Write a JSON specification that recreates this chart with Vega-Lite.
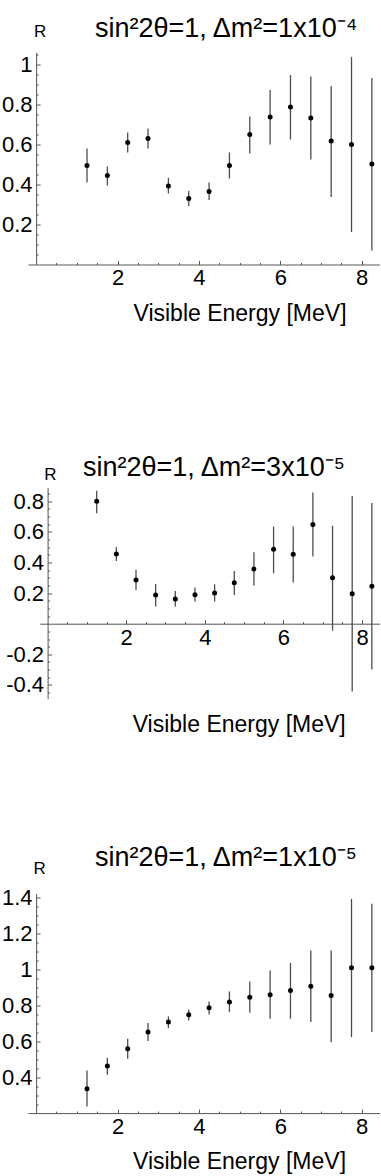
{
  "$schema": "https://vega.github.io/schema/vega-lite/v6.json",
  "background": "white",
  "padding": {"left": 1, "top": 14.5, "right": 0, "bottom": 0},
  "config": {"view": {"stroke": null}, "font": "Liberation Sans"},
  "datasets": {
    "p1": [
      {"E": 1.25, "R": 0.495, "lo": 0.41, "hi": 0.58},
      {"E": 1.75, "R": 0.445, "lo": 0.395, "hi": 0.49},
      {"E": 2.25, "R": 0.61, "lo": 0.56, "hi": 0.66},
      {"E": 2.75, "R": 0.63, "lo": 0.58, "hi": 0.68},
      {"E": 3.25, "R": 0.392, "lo": 0.355, "hi": 0.433},
      {"E": 3.75, "R": 0.33, "lo": 0.292, "hi": 0.367},
      {"E": 4.25, "R": 0.365, "lo": 0.322, "hi": 0.41},
      {"E": 4.75, "R": 0.495, "lo": 0.43, "hi": 0.56},
      {"E": 5.25, "R": 0.65, "lo": 0.555, "hi": 0.74},
      {"E": 5.75, "R": 0.737, "lo": 0.6, "hi": 0.873},
      {"E": 6.25, "R": 0.788, "lo": 0.625, "hi": 0.947},
      {"E": 6.75, "R": 0.733, "lo": 0.525, "hi": 0.94},
      {"E": 7.25, "R": 0.617, "lo": 0.338, "hi": 0.893},
      {"E": 7.75, "R": 0.6, "lo": 0.162, "hi": 1.038},
      {"E": 8.25, "R": 0.503, "lo": 0.07, "hi": 0.933}
    ],
    "p2": [
      {"E": 1.25, "R": 0.8, "lo": 0.722, "hi": 0.868},
      {"E": 1.75, "R": 0.456, "lo": 0.41, "hi": 0.5},
      {"E": 2.25, "R": 0.286, "lo": 0.221, "hi": 0.352},
      {"E": 2.75, "R": 0.188, "lo": 0.112, "hi": 0.26},
      {"E": 3.25, "R": 0.162, "lo": 0.112, "hi": 0.214},
      {"E": 3.75, "R": 0.19, "lo": 0.145, "hi": 0.236},
      {"E": 4.25, "R": 0.2, "lo": 0.145, "hi": 0.258},
      {"E": 4.75, "R": 0.267, "lo": 0.188, "hi": 0.345},
      {"E": 5.25, "R": 0.358, "lo": 0.25, "hi": 0.467},
      {"E": 5.75, "R": 0.487, "lo": 0.33, "hi": 0.635},
      {"E": 6.25, "R": 0.454, "lo": 0.269, "hi": 0.635},
      {"E": 6.75, "R": 0.648, "lo": 0.439, "hi": 0.857},
      {"E": 7.25, "R": 0.3, "lo": -0.045, "hi": 0.64},
      {"E": 7.75, "R": 0.195, "lo": -0.443, "hi": 0.835},
      {"E": 8.25, "R": 0.245, "lo": -0.3, "hi": 0.788}
    ],
    "p3": [
      {"E": 1.25, "R": 0.335, "lo": 0.237, "hi": 0.437},
      {"E": 1.75, "R": 0.461, "lo": 0.413, "hi": 0.507},
      {"E": 2.25, "R": 0.557, "lo": 0.502, "hi": 0.613},
      {"E": 2.75, "R": 0.65, "lo": 0.6, "hi": 0.7},
      {"E": 3.25, "R": 0.706, "lo": 0.672, "hi": 0.737},
      {"E": 3.75, "R": 0.746, "lo": 0.715, "hi": 0.776},
      {"E": 4.25, "R": 0.785, "lo": 0.748, "hi": 0.82},
      {"E": 4.75, "R": 0.817, "lo": 0.761, "hi": 0.876},
      {"E": 5.25, "R": 0.844, "lo": 0.757, "hi": 0.931},
      {"E": 5.75, "R": 0.857, "lo": 0.724, "hi": 0.992},
      {"E": 6.25, "R": 0.881, "lo": 0.724, "hi": 1.035},
      {"E": 6.75, "R": 0.905, "lo": 0.706, "hi": 1.103},
      {"E": 7.25, "R": 0.853, "lo": 0.594, "hi": 1.103},
      {"E": 7.75, "R": 1.007, "lo": 0.622, "hi": 1.39},
      {"E": 8.25, "R": 1.007, "lo": 0.65, "hi": 1.363}
    ]
  },
  "vconcat": [
    {
      "width": 352,
      "height": 434.6,
      "data": {"name": "p1"},
      "title": {"text": "sin²2θ=1, Δm²=1x10⁻⁴", "frame": "group", "anchor": "start", "dx": 67, "dy": 20.3, "offset": 0, "fontSize": 27, "fontWeight": "normal", "font": "Liberation Sans", "color": "black"},
      "layer": [
        {
          "mark": {"type": "rule", "stroke": "#4d4d4d", "strokeWidth": 1.3},
          "encoding": {
            "x": {"field": "E", "type": "quantitative", "scale": {"domain": [-0.2, 8.45], "range": [0, 352], "nice": false, "zero": false},
              "axis": {"orient": "bottom", "offset": -222.6, "values": [2, 4, 6, 8], "labelExpr": "'' + datum.value", "tickSize": -4, "tickColor": "#555555", "domainColor": "#555555", "labelFontSize": 22, "labelColor": "black", "labelPadding": 7.4, "labelBaseline": "top", "labelFlush": false, "labelOverlap": false, "grid": false, "title": "Visible Energy [MeV]", "titleFontSize": 23, "titleFontWeight": "normal", "titleColor": "black", "titleX": 211.5, "titleY": 48.5, "titleBaseline": "middle", "titleAlign": "center"}},
            "y": {"field": "lo", "type": "quantitative", "scale": {"domain": [0, 1.06], "range": [212, 0], "nice": false, "zero": false},
              "axis": {"orient": "left", "offset": -8.1, "values": [0.2, 0.4, 0.6, 0.8, 1], "labelExpr": "'' + datum.value", "tickSize": -4, "tickColor": "#555555", "domainColor": "#555555", "labelFontSize": 22, "labelColor": "black", "labelPadding": 8, "labelOverlap": false, "labelFlush": false, "grid": false, "title": "R", "titleAngle": 0, "titleX": 3.5, "titleY": -21, "titleAlign": "center", "titleBaseline": "middle", "titleFontSize": 17, "titleFontWeight": "normal", "titleColor": "black"}},
            "y2": {"field": "hi"}
          }
        },
        {
          "mark": {"type": "point", "filled": true, "color": "black", "size": 25, "opacity": 1},
          "encoding": {
            "x": {"field": "E", "type": "quantitative", "axis": {"orient": "bottom", "offset": -222.6, "values": [0.5, 1, 1.5, 2.5, 3, 3.5, 4.5, 5, 5.5, 6.5, 7, 7.5], "labels": false, "domain": false, "tickSize": -2, "tickColor": "#555555", "grid": false, "title": null}},
            "y": {"field": "R", "type": "quantitative", "axis": {"orient": "left", "offset": -8.1, "values": [0.05, 0.1, 0.15, 0.25, 0.3, 0.35, 0.45, 0.5, 0.55, 0.65, 0.7, 0.75, 0.85, 0.9, 0.95, 1.05], "labels": false, "domain": false, "tickSize": -2, "tickColor": "#555555", "grid": false, "title": null}}
          }
        }
      ],
      "resolve": {"axis": {"x": "independent", "y": "independent"}}
    },
    {
      "width": 352,
      "height": 405.7,
      "data": {"name": "p2"},
      "title": {"text": "sin²2θ=1, Δm²=3x10⁻⁵", "frame": "group", "anchor": "start", "dx": 55, "dy": 16.8, "offset": 0, "fontSize": 27, "fontWeight": "normal", "font": "Liberation Sans", "color": "black"},
      "layer": [
        {
          "mark": {"type": "rule", "stroke": "#4d4d4d", "strokeWidth": 1.3},
          "encoding": {
            "x": {"field": "E", "type": "quantitative", "scale": {"domain": [-0.2, 8.47], "range": [11.7, 352.5], "nice": false, "zero": false},
              "axis": {"orient": "bottom", "offset": -269.5, "values": [2, 4, 6, 8], "labelExpr": "'' + datum.value", "tickSize": -4, "tickColor": "#555555", "domainColor": "#555555", "labelFontSize": 22, "labelColor": "black", "labelPadding": 7.4, "labelBaseline": "top", "labelFlush": false, "labelOverlap": false, "grid": false, "title": "Visible Energy [MeV]", "titleFontSize": 23, "titleFontWeight": "normal", "titleColor": "black", "titleX": 210.7, "titleY": 101.2, "titleBaseline": "middle", "titleAlign": "center"}},
            "y": {"field": "lo", "type": "quantitative", "scale": {"domain": [-0.49, 0.89], "range": [211.2, 0], "nice": false, "zero": false},
              "axis": {"orient": "left", "offset": -19.6, "values": [-0.4, -0.2, 0.2, 0.4, 0.6, 0.8], "labelExpr": "'' + datum.value", "tickSize": -4, "tickColor": "#555555", "domainColor": "#555555", "labelFontSize": 22, "labelColor": "black", "labelPadding": 8, "labelOverlap": false, "labelFlush": false, "grid": false, "title": "R", "titleAngle": 0, "titleX": 2.4, "titleY": -13.5, "titleAlign": "center", "titleBaseline": "middle", "titleFontSize": 17, "titleFontWeight": "normal", "titleColor": "black"}},
            "y2": {"field": "hi"}
          }
        },
        {
          "mark": {"type": "point", "filled": true, "color": "black", "size": 25, "opacity": 1},
          "encoding": {
            "x": {"field": "E", "type": "quantitative", "axis": {"orient": "bottom", "offset": -269.5, "values": [0.5, 1, 1.5, 2.5, 3, 3.5, 4.5, 5, 5.5, 6.5, 7, 7.5], "labels": false, "domain": false, "tickSize": -2, "tickColor": "#555555", "grid": false, "title": null}},
            "y": {"field": "R", "type": "quantitative", "axis": {"orient": "left", "offset": -19.6, "values": [-0.45, -0.35, -0.3, -0.25, -0.15, -0.1, -0.05, 0.05, 0.1, 0.15, 0.25, 0.3, 0.35, 0.45, 0.5, 0.55, 0.65, 0.7, 0.75, 0.85], "labels": false, "domain": false, "tickSize": -2, "tickColor": "#555555", "grid": false, "title": null}}
          }
        }
      ],
      "resolve": {"axis": {"x": "independent", "y": "independent"}}
    },
    {
      "width": 352,
      "height": 219.6,
      "data": {"name": "p3"},
      "title": {"text": "sin²2θ=1, Δm²=1x10⁻⁵", "frame": "group", "anchor": "start", "dx": 67, "dy": 12.3, "offset": 0, "fontSize": 27, "fontWeight": "normal", "font": "Liberation Sans", "color": "black"},
      "layer": [
        {
          "mark": {"type": "rule", "stroke": "#4d4d4d", "strokeWidth": 1.3},
          "encoding": {
            "x": {"field": "E", "type": "quantitative", "scale": {"domain": [-0.2, 8.45], "range": [0, 352], "nice": false, "zero": false},
              "axis": {"orient": "bottom", "offset": 0, "values": [2, 4, 6, 8], "labelExpr": "'' + datum.value", "tickSize": -4, "tickColor": "#555555", "domainColor": "#555555", "labelFontSize": 22, "labelColor": "black", "labelPadding": 7.4, "labelBaseline": "top", "labelFlush": false, "labelOverlap": false, "grid": false, "title": "Visible Energy [MeV]", "titleFontSize": 23, "titleFontWeight": "normal", "titleColor": "black", "titleX": 211, "titleY": 48.7, "titleBaseline": "middle", "titleAlign": "center"}},
            "y": {"field": "lo", "type": "quantitative", "scale": {"domain": [0.2, 1.42], "range": [219.6, 0], "nice": false, "zero": false},
              "axis": {"orient": "left", "offset": -8.1, "values": [0.4, 0.6, 0.8, 1, 1.2, 1.4], "labelExpr": "'' + datum.value", "tickSize": -4, "tickColor": "#555555", "domainColor": "#555555", "labelFontSize": 22, "labelColor": "black", "labelPadding": 8, "labelOverlap": false, "labelFlush": false, "grid": false, "title": "R", "titleAngle": 0, "titleX": 3, "titleY": -25, "titleAlign": "center", "titleBaseline": "middle", "titleFontSize": 17, "titleFontWeight": "normal", "titleColor": "black"}},
            "y2": {"field": "hi"}
          }
        },
        {
          "mark": {"type": "point", "filled": true, "color": "black", "size": 25, "opacity": 1},
          "encoding": {
            "x": {"field": "E", "type": "quantitative", "axis": {"orient": "bottom", "offset": 0, "values": [0.5, 1, 1.5, 2.5, 3, 3.5, 4.5, 5, 5.5, 6.5, 7, 7.5], "labels": false, "domain": false, "tickSize": -2, "tickColor": "#555555", "grid": false, "title": null}},
            "y": {"field": "R", "type": "quantitative", "axis": {"orient": "left", "offset": -8.1, "values": [0.25, 0.3, 0.35, 0.45, 0.5, 0.55, 0.65, 0.7, 0.75, 0.85, 0.9, 0.95, 1.05, 1.1, 1.15, 1.25, 1.3, 1.35], "labels": false, "domain": false, "tickSize": -2, "tickColor": "#555555", "grid": false, "title": null}}
          }
        }
      ],
      "resolve": {"axis": {"x": "independent", "y": "independent"}}
    }
  ],
  "spacing": 0,
  "bounds": "flush"
}
